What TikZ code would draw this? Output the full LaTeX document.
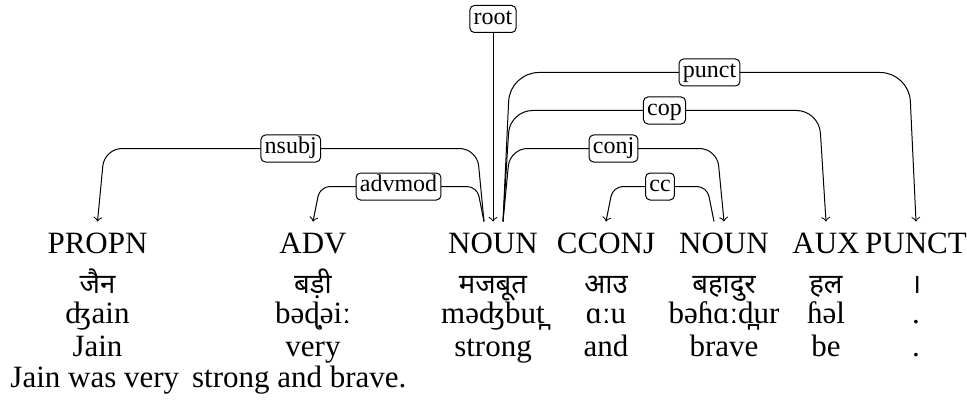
\documentclass[tikz,border=0pt]{standalone}
\usepackage{fontspec}
\setmainfont{Liberation Serif}
\newfontfamily\devfont[Script=Devanagari]{Noto Sans}
\usetikzlibrary{calc}

\begin{document}
\begin{tikzpicture}[x=0.4pt, y=0.4pt,
  upos/.style={anchor=base, inner xsep=0pt, inner ysep=4pt, text height=8.4pt, font=\fontsize{12.4}{15}\selectfont},
  word/.style={anchor=base, inner sep=0pt, font=\fontsize{12.4}{15}\selectfont},
  hindi/.style={anchor=base, inner sep=0pt, font=\fontsize{11}{13}\selectfont\devfont},
  rel/.style={draw, fill=white, rounded corners=1.8pt, inner xsep=1.5pt, inner ysep=1pt,
    text height=6.6pt, text depth=2.2pt, font=\fontsize{9.6}{11}\selectfont},
  dep/.style={->, rounded corners=#1}]
\useasboundingbox (0,0) rectangle (967,401);
% tags
\node[upos] (propn) at (97.5,148) {PROPN};
\node[upos] (adv) at (313,148) {ADV};
\node[upos] (noun) at (493,148) {NOUN};
\node[upos] (cconj) at (606,148) {CCONJ};
\node[upos] (nounb) at (724,148) {NOUN};
\node[upos] (aux) at (826,148) {AUX};
\node[upos] (punct) at (916,148) {PUNCT};
% hindi
\node[hindi] (hi1) at (97.5,108) {जैन};
\node[hindi] (hi2) at (313,108) {बड़ी};
\node[hindi] (hi3) at (493,108) {मजबूत};
\node[hindi] (hi4) at (606,108) {आउ};
\node[hindi] (hi5) at (724,108) {बहादुर};
\node[hindi] (hi6) at (826,108) {हल};
\node[hindi] (hi7) at (916,108) {।};
% ipa
\node[word] (ipa1) at (97.5,78) {ʤain};
\node[word] (ipa2) at (313,78) {bəɖ̣əiː};
\node[word] (ipa3) at (493,78) {məʤbut̪};
\node[word] (ipa4) at (606,78) {ɑːu};
\node[word] (ipa5) at (724,78) {bəɦɑːd̪ur};
\node[word] (ipa6) at (826,78) {ɦəl};
\node[word] (ipa7) at (916,78) {.};
% gloss
\node[word] (en1) at (97.5,45) {Jain};
\node[word] (en2) at (313,45) {very};
\node[word] (en3) at (493,45) {strong};
\node[word] (en4) at (606,45) {and};
\node[word] (en5) at (724,45) {brave};
\node[word] (en6) at (826,45) {be};
\node[word] (en7) at (916,45) {.};
\node[word, anchor=base west] (sent) at (10,14) {Jain was very\,\ strong and brave.};
% arcs
\node[rel] (root) at (493,382) {root};
\draw[->] (root) -- (noun);
\draw[dep=7pt] ($(noun.north)+(-9,0)$) -- ++(-7,73) -- node[rel] {nsubj} ($(propn.north)+(7,73)$) -- (propn.north);
\draw[dep=4pt] ($(noun.north)+(-9,0)$) -- ++(-7,35) -- node[rel] {advmod} ($(adv.north)+(7,35)$) -- (adv.north);
\draw[dep=4pt] ($(nounb.north)+(-10,0)$) -- ++(-7,35) -- node[rel] {cc} ($(cconj.north)+(7,35)$) -- (cconj.north);
\draw[dep=7pt] ($(noun.north)+(10,0)$) -- ++(7,73) -- node[rel] {conj} ($(nounb.north)+(-7,73)$) -- (nounb.north);
\draw[dep=9pt] ($(noun.north)+(10,0)$) -- ++(7,111) -- node[rel] {cop} ($(aux.north)+(-7,111)$) -- (aux.north);
\draw[dep=11.5pt] ($(noun.north)+(10,0)$) -- ++(7,149) -- node[rel] {punct} ($(punct.north)+(-7,149)$) -- (punct.north);
\end{tikzpicture}
\end{document}
